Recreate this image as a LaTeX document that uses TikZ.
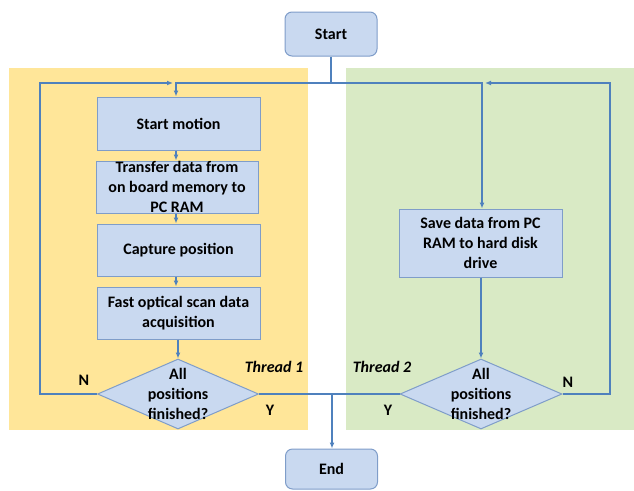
\documentclass[tikz,border=0pt]{standalone}
\usepackage{fontspec}
\setmainfont{Carlito}
\usetikzlibrary{shapes.geometric,arrows.meta}
\definecolor{laneone}{HTML}{FFE699}
\definecolor{lanetwo}{HTML}{D9EAC5}
\definecolor{boxfill}{HTML}{C9D9F0}
\definecolor{boxline}{HTML}{7F9DC9}
\definecolor{flow}{HTML}{4F81BD}
\tikzset{
  lbl/.style={font=\fontsize{16}{20}\selectfont\bfseries},
  procbox/.style={draw=boxline, fill=boxfill, line width=1pt, inner sep=0pt,
    align=center, lbl},
  termbox/.style={procbox, rounded corners=7pt, minimum width=92pt},
  decision/.style={diamond, draw=boxline, fill=boxfill, line width=1pt, inner sep=0pt},
  link/.style={draw=flow, line width=1.8pt},
  arr/.style={link, -{Latex[length=6pt,width=5pt]}},
  thread/.style={font=\fontsize{16}{20}\selectfont\bfseries\itshape},
}
\begin{document}
\begin{tikzpicture}[x=1pt,y=-1pt]
  \useasboundingbox (0,0) rectangle (634,490);
  % thread lanes
  \fill[laneone] (9,68) rectangle (308,430);
  \fill[lanetwo] (346,68) rectangle (634,430);

  % boxes
  \node[termbox, minimum height=44pt] (start) at (331,34) {Start};
  \node[procbox, minimum width=163pt, minimum height=53pt] (sm) at (178.5,123.5) {Start motion};
  \node[procbox, minimum width=162pt, minimum height=52pt] (td) at (177,187) {Transfer data from\\on board memory to\\PC RAM};
  \node[procbox, minimum width=163pt, minimum height=52pt] (cp) at (178.5,250) {Capture position};
  \node[procbox, minimum width=163pt, minimum height=52pt] (fo) at (178.5,313) {Fast optical scan data\\acquisition};
  \node[decision, minimum width=161pt, minimum height=70pt] (d1) at (178,394) {};
  \node[lbl, align=center] (d1t) at (178,394) {All\\positions\\finished?};
  \node[procbox, minimum width=163pt, minimum height=68pt] (sv) at (480.5,243) {Save data from PC\\RAM to hard disk\\drive};
  \node[decision, minimum width=162pt, minimum height=70pt] (d2) at (481,394) {};
  \node[lbl, align=center] (d2t) at (481,394) {All\\positions\\finished?};
  \node[termbox, minimum height=40pt] (end) at (331.5,469) {End};

  % junction points
  \coordinate (j0) at (331,83);
  \coordinate (jl) at (176,83);
  \coordinate (jr) at (482,83);
  \coordinate (jy) at (332,394);

  % labels
  \node[lbl] (n1) at (84,380) {N};
  \node[lbl] (y1) at (270,410) {Y};
  \node[thread] (t1) at (274,367) {Thread 1};
  \node[thread] (t2) at (382,367) {Thread 2};
  \node[lbl] (n2) at (568,382) {N};
  \node[lbl] (y2) at (388,410) {Y};

  % connectors
  \draw[link] (start.south) -- (j0);
  \draw[arr] (j0) -- (jl) -- (sm.north -| jl);
  \draw[arr] (j0) -- (jr) -- (sv.north -| jr);
  \draw[arr] (sm.south -| jl) -- (td.north -| jl);
  \draw[arr] (td.south -| jl) -- (cp.north -| jl);
  \draw[arr] (cp.south -| jl) -- (fo.north -| jl);
  \draw[arr] (fo.south -| d1) -- (d1.north);
  \draw[arr] (sv.south -| d2) -- (d2.north);
  \draw[arr] (d1.west) -- (40,394) -- (40,83) -- ([xshift=-3pt]jl);
  \draw[arr] (d2.east) -- (610,394) -- (610,83) -- ([xshift=3pt]jr);
  \draw[link] (d1.east) -- (jy);
  \draw[arr] (d2.west) -- (jy) -- (end.north -| jy);
\end{tikzpicture}
\end{document}
